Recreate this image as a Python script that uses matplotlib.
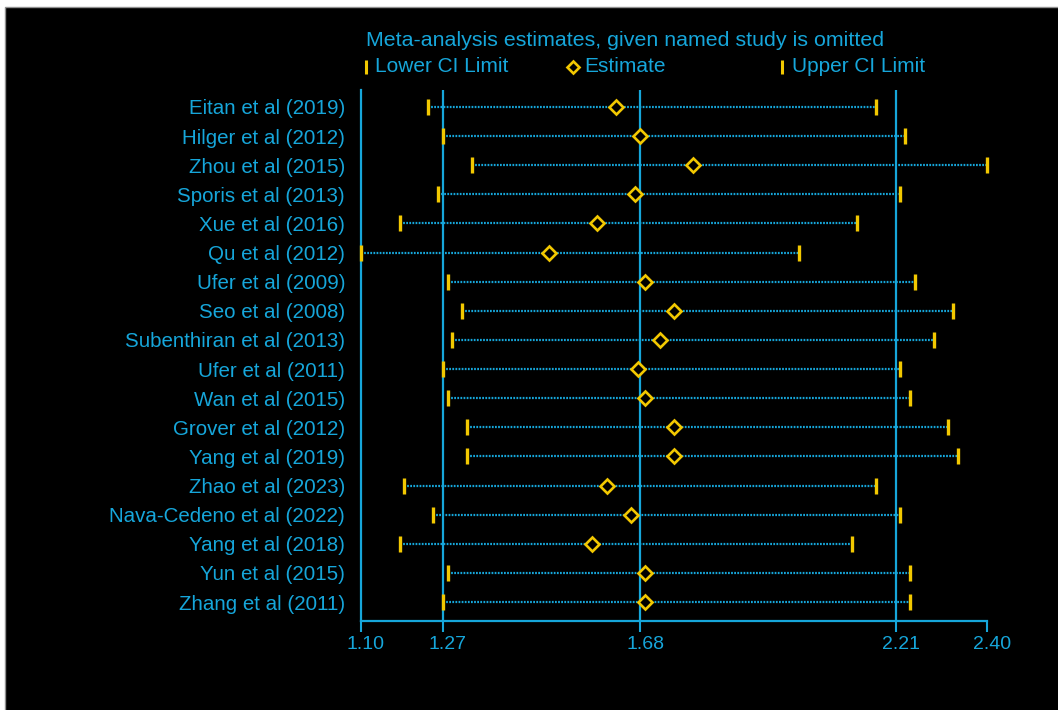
import matplotlib
matplotlib.use("Agg")
import matplotlib.pyplot as plt
from matplotlib.lines import Line2D
from matplotlib.patches import Rectangle
from matplotlib.transforms import ScaledTranslation

# studies (top to bottom) and the omitted-study estimates
studies = [
    "Eitan et al (2019)", "Hilger et al (2012)", "Zhou et al (2015)",
    "Sporis et al (2013)", "Xue et al (2016)", "Qu et al (2012)",
    "Ufer et al (2009)", "Seo et al (2008)", "Subenthiran et al (2013)",
    "Ufer et al (2011)", "Wan et al (2015)", "Grover et al (2012)",
    "Yang et al (2019)", "Zhao et al (2023)", "Nava-Cedeno et al (2022)",
    "Yang et al (2018)", "Yun et al (2015)", "Zhang et al (2011)",
]
lower = [1.24, 1.27, 1.33, 1.26, 1.18, 1.10, 1.28, 1.31, 1.29,
         1.27, 1.28, 1.32, 1.32, 1.19, 1.25, 1.18, 1.28, 1.27]
estimate = [1.63, 1.68, 1.79, 1.67, 1.59, 1.49, 1.69, 1.75, 1.72,
            1.675, 1.69, 1.75, 1.75, 1.61, 1.66, 1.58, 1.69, 1.69]
upper = [2.17, 2.23, 2.40, 2.22, 2.13, 2.01, 2.25, 2.33, 2.29,
         2.22, 2.24, 2.32, 2.34, 2.17, 2.22, 2.12, 2.24, 2.24]

ref_lines = [1.27, 1.68, 2.21]
xticks = [1.10, 1.27, 1.68, 2.21, 2.40]
xtick_labels = ["1.10", "1.27", "1.68", "2.21", "2.40"]

cyan = "#16a6da"
yellow = "#f2c800"

plt.rcParams["font.family"] = ["Liberation Sans", "DejaVu Sans"]

W, H = 1058, 710
fig = plt.figure(figsize=(W / 100, H / 100), dpi=100, facecolor="white")
# black panel with a thin white margin on top / left
fig.add_artist(Rectangle((5 / W, -0.01), 1.01 - 5 / W, (H - 7) / H + 0.01, transform=fig.transFigure,
                         facecolor="black", edgecolor="#909090", lw=1, zorder=0))

ax = fig.add_axes([361 / W, (H - 621) / H, (987 - 361) / W, (621 - 90) / H])
ax.set_facecolor("none")

n = len(studies)
rows = list(range(n))

for x in ref_lines:
    ax.axvline(x, color=cyan, lw=1.6, zorder=1)

for i in rows:
    ax.plot([lower[i], upper[i]], [i, i], color=cyan, lw=1.6,
            linestyle=(0, (0.8, 0.6)), zorder=2, solid_capstyle="butt")
ax.plot(lower, rows, linestyle="none", marker="|", ms=11, mew=2.4, color=yellow, zorder=3, clip_on=False)
ax.plot(upper, rows, linestyle="none", marker="|", ms=11, mew=2.4, color=yellow, zorder=3, clip_on=False)
ax.plot(estimate, rows, linestyle="none", marker="D", ms=7, mew=1.9,
        mfc="black", mec=yellow, zorder=4)

ax.set_xlim(1.10, 2.40)
ax.set_ylim(n - 1 + 0.65, -0.58)

ax.set_yticks(rows)
ax.set_yticklabels(studies, fontsize=14.8, color=cyan)
ax.tick_params(axis="y", length=0, pad=11.5)

ax.set_xticks(xticks)
ax.set_xticklabels(xtick_labels, fontsize=14, color=cyan)
ax.tick_params(axis="x", length=8, width=1.5, color=cyan, pad=3)
for lab in ax.get_xticklabels():
    lab.set_transform(lab.get_transform() + ScaledTranslation(5 / 100, 0, fig.dpi_scale_trans))

for side in ["top", "right"]:
    ax.spines[side].set_visible(False)
for side in ["left", "bottom"]:
    ax.spines[side].set_color(cyan)
    ax.spines[side].set_linewidth(1.6)

# title and legend row
fig.text(366 / W, 1 - 41 / H, "Meta-analysis estimates, given named study is omitted",
         color=cyan, fontsize=15.4, ha="left", va="center")
ly = 1 - 67 / H
fig.add_artist(Line2D([366 / W], [ly], marker="|", ms=10, mew=2.2, color=yellow,
                      transform=fig.transFigure))
fig.text(375 / W, ly, "Lower CI Limit", color=cyan, fontsize=15, ha="left", va="center")
fig.add_artist(Line2D([573 / W], [ly], marker="D", ms=6.5, mew=1.9, mfc="black", mec=yellow,
                      transform=fig.transFigure))
fig.text(584 / W, ly, "Estimate", color=cyan, fontsize=15, ha="left", va="center")
fig.add_artist(Line2D([782 / W], [ly], marker="|", ms=10, mew=2.2, color=yellow,
                      transform=fig.transFigure))
fig.text(792 / W, ly, "Upper CI Limit", color=cyan, fontsize=15, ha="left", va="center")

fig.savefig("out.png", dpi=100, facecolor="white")
